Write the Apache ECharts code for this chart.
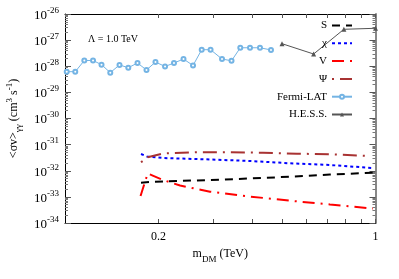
<!DOCTYPE html>
<html>
<head>
<meta charset="utf-8">
<script src="https://cdn.jsdelivr.net/npm/echarts@6/dist/echarts.min.js"></script>
<style>html,body{margin:0;padding:0;background:#fff;}#c{width:399px;height:279px;}</style>
</head>
<body>
<div id="c"></div>
<script>
// ---- data (cross sections in cm^3 s^-1, masses in TeV) ----
const massFermi = [0.1013,0.1079,0.1154,0.1231,0.1311,0.1399,0.1498,0.1599,0.1712,0.1830,0.1956,0.2100,0.2244,0.2408,0.2584,0.2756,0.2943,0.3204,0.3438,0.3669,0.3943,0.4246,0.4607];
const sigmaFermi = [6.2e-29,6.2e-29,1.66e-28,1.66e-28,1.15e-28,5.7e-29,1.12e-28,8.8e-29,1.33e-28,7.2e-29,1.45e-28,9.8e-29,1.33e-28,1.89e-28,1.07e-28,4.3e-28,4.3e-28,1.89e-28,1.62e-28,5.1e-28,5.1e-28,5.1e-28,4.2e-28];
const massHESS = [0.5,0.632,0.791,1.0];
const sigmaHESS = [7.3e-28,2.94e-28,2.6e-27,2.84e-27];
const massS = [0.1757,0.1878,0.2068,0.2931,0.3943,0.5305,0.7133,0.9817];
const sigmaS = [3.49e-33,3.71e-33,3.88e-33,4.43e-33,5.05e-33,5.92e-33,7.18e-33,8.42e-33];
const massChi = [0.1757,0.1837,0.2068,0.2931,0.3943,0.5305,0.7133,0.9817];
const sigmaChi = [4.38e-32,3.51e-32,3.08e-32,2.70e-32,2.36e-32,1.93e-32,1.66e-32,1.27e-32];
const massV = [0.1751,0.1846,0.2068,0.2347,0.2931,0.3943,0.5305,0.7133,0.9817];
const sigmaV = [1.08e-33,7.85e-33,4.43e-33,2.72e-33,1.58e-33,1.03e-33,7.14e-34,5.11e-34,3.59e-34];
const massPsi = [0.1757,0.1846,0.2068,0.2655,0.34,0.4342,0.5589,0.7133,0.9601];
const sigmaPsi = [2.11e-32,3.27e-32,4.57e-32,5.08e-32,5.08e-32,4.91e-32,4.50e-32,4.26e-32,3.67e-32];
const yMinExp = -34, yMaxExp = -26;           // y tick labels 10^-34 ... 10^-26
const xLabelValues = [0.2, 1];
const xTickValues = [0.2,0.3,0.4,0.5,0.6,0.7,0.8,0.9,1];

// y axis is a value axis in log10 units (ECharts log axis rounds tiny tick values to 0)
const pairs = (xs, ys) => xs.map((x, i) => [x, Math.log10(ys[i])]);
const yMinor = [];
for (let e = yMinExp; e < yMaxExp; e++) for (let j = 2; j <= 9; j++) yMinor.push(e + Math.log10(j));

const serif = 'Liberation Serif';
const chart = echarts.init(document.getElementById('c'), null, {renderer: 'canvas'});
const lineAx = {show: true, lineStyle: {color: '#000', width: 1}};
const yBase = {type: 'value', min: yMinExp, max: yMaxExp, interval: 1, splitLine: {show: false}, minorTick: {show: false}};
const xBase = {type: 'log', logBase: 10, min: 0.1, max: 1, splitLine: {show: false}, minorTick: {show: false}};

chart.setOption({
  animation: false,
  backgroundColor: '#fff',
  grid: {left: 65, right: 23.5, top: 14, bottom: 56, containLabel: false, outerBoundsMode: 'none'},
  xAxis: [
    Object.assign({}, xBase, {position: 'bottom',
      axisLine: lineAx,
      axisTick: {show: true, inside: true, length: 4, customValues: xTickValues, lineStyle: {color: '#555'}},
      axisLabel: {show: true, customValues: xLabelValues, margin: 8, color: '#000', fontFamily: serif, fontSize: 12,
        formatter: v => (Math.abs(v - 1) < 1e-9 ? '1' : String(+v.toPrecision(3)))},
      name: '{m|m}{sub|DM}{m| (TeV)}', nameLocation: 'middle', nameGap: 25,
      nameTextStyle: {rich: {
        m: {fontFamily: serif, fontSize: 12, color: '#000', lineHeight: 16, verticalAlign: 'top'},
        sub: {fontFamily: serif, fontSize: 9, color: '#000', lineHeight: 9, verticalAlign: 'bottom'}}}
    }),
    Object.assign({}, xBase, {position: 'top',
      axisLine: lineAx,
      axisTick: {show: true, inside: true, length: 4, customValues: xTickValues, lineStyle: {color: '#555'}},
      axisLabel: {show: false}})
  ],
  yAxis: [
    Object.assign({}, yBase, {position: 'left',
      axisLine: lineAx,
      axisTick: {show: true, inside: true, length: 6, lineStyle: {color: '#555'}},
      axisLabel: {show: true, margin: 6, showMinLabel: true, showMaxLabel: true,
        formatter: v => '{b|10}{s|' + Math.round(v) + '}',
        rich: {
          b: {fontFamily: serif, fontSize: 13, color: '#000', lineHeight: 16, verticalAlign: 'bottom'},
          s: {fontFamily: serif, fontSize: 9, color: '#000', lineHeight: 9, verticalAlign: 'top'}}},
      name: '{m|<σv>}{sub|γγ}{m| (cm}{sup|3}{m| s}{sup|-1}{m|)}', nameLocation: 'middle', nameGap: 41, nameRotate: 90,
      nameTextStyle: {rich: {
        m: {fontFamily: serif, fontSize: 12, color: '#000', lineHeight: 18, verticalAlign: 'middle'},
        sub: {fontFamily: serif, fontSize: 9, color: '#000', lineHeight: 9, verticalAlign: 'bottom'},
        sup: {fontFamily: serif, fontSize: 9, color: '#000', lineHeight: 9, verticalAlign: 'top'}}}
    }),
    Object.assign({}, yBase, {position: 'left', axisLine: {show: false},
      axisTick: {show: true, inside: true, length: 3, customValues: yMinor, lineStyle: {color: '#777'}},
      axisLabel: {show: false}}),
    Object.assign({}, yBase, {position: 'right', axisLine: {show: true, lineStyle: {color: '#888', width: 2}},
      axisTick: {show: true, inside: true, length: 6, lineStyle: {color: '#555'}},
      axisLabel: {show: false}}),
    Object.assign({}, yBase, {position: 'right', axisLine: {show: false},
      axisTick: {show: true, inside: true, length: 3, customValues: yMinor, lineStyle: {color: '#777'}},
      axisLabel: {show: false}})
  ],
  legend: {
    orient: 'vertical', right: 46, top: 20, align: 'right', padding: 0,
    itemWidth: 20, itemHeight: 5, itemGap: 6.8,
    textStyle: {fontFamily: serif, fontSize: 11, color: '#000'},
    data: [
      {name: 'S', itemStyle: {opacity: 0}},
      {name: 'χ', itemStyle: {opacity: 0}},
      {name: 'V', itemStyle: {opacity: 0}},
      {name: 'Ψ', itemStyle: {opacity: 0}},
      {name: 'Fermi-LAT'},
      {name: 'H.E.S.S.'}
    ]
  },
  graphic: [{type: 'text', left: 88, top: 34, style: {text: 'Λ = 1.0 TeV', fontFamily: serif, fontSize: 10, fill: '#000'}}],
  series: [
    {name: 'S', type: 'line', data: pairs(massS, sigmaS), symbol: 'none', lineStyle: {color: '#000', width: 2, type: [8, 6]}, itemStyle: {color: '#000'}},
    {name: 'χ', type: 'line', data: pairs(massChi, sigmaChi), symbol: 'none', lineStyle: {color: '#0000ff', width: 2, type: [3, 3]}, itemStyle: {color: '#0000ff'}},
    {name: 'V', type: 'line', data: pairs(massV, sigmaV), symbol: 'none', lineStyle: {color: '#ff0000', width: 2, type: [12, 6, 2, 6]}, itemStyle: {color: '#ff0000'}},
    {name: 'Ψ', type: 'line', data: pairs(massPsi, sigmaPsi), symbol: 'none', lineStyle: {color: '#a83232', width: 2, type: [2, 6, 14, 6]}, itemStyle: {color: '#a83232'}},
    {name: 'Fermi-LAT', type: 'line', data: pairs(massFermi, sigmaFermi), symbol: 'emptyCircle', symbolSize: 4,
      lineStyle: {color: '#74b4e4', width: 1}, itemStyle: {color: '#74b4e4', borderWidth: 0.8}},
    {name: 'H.E.S.S.', type: 'line', data: pairs(massHESS, sigmaHESS), symbol: 'triangle', symbolSize: 5,
      lineStyle: {color: '#555', width: 1}, itemStyle: {color: '#555'}}
  ]
});
</script>
</body>
</html>
